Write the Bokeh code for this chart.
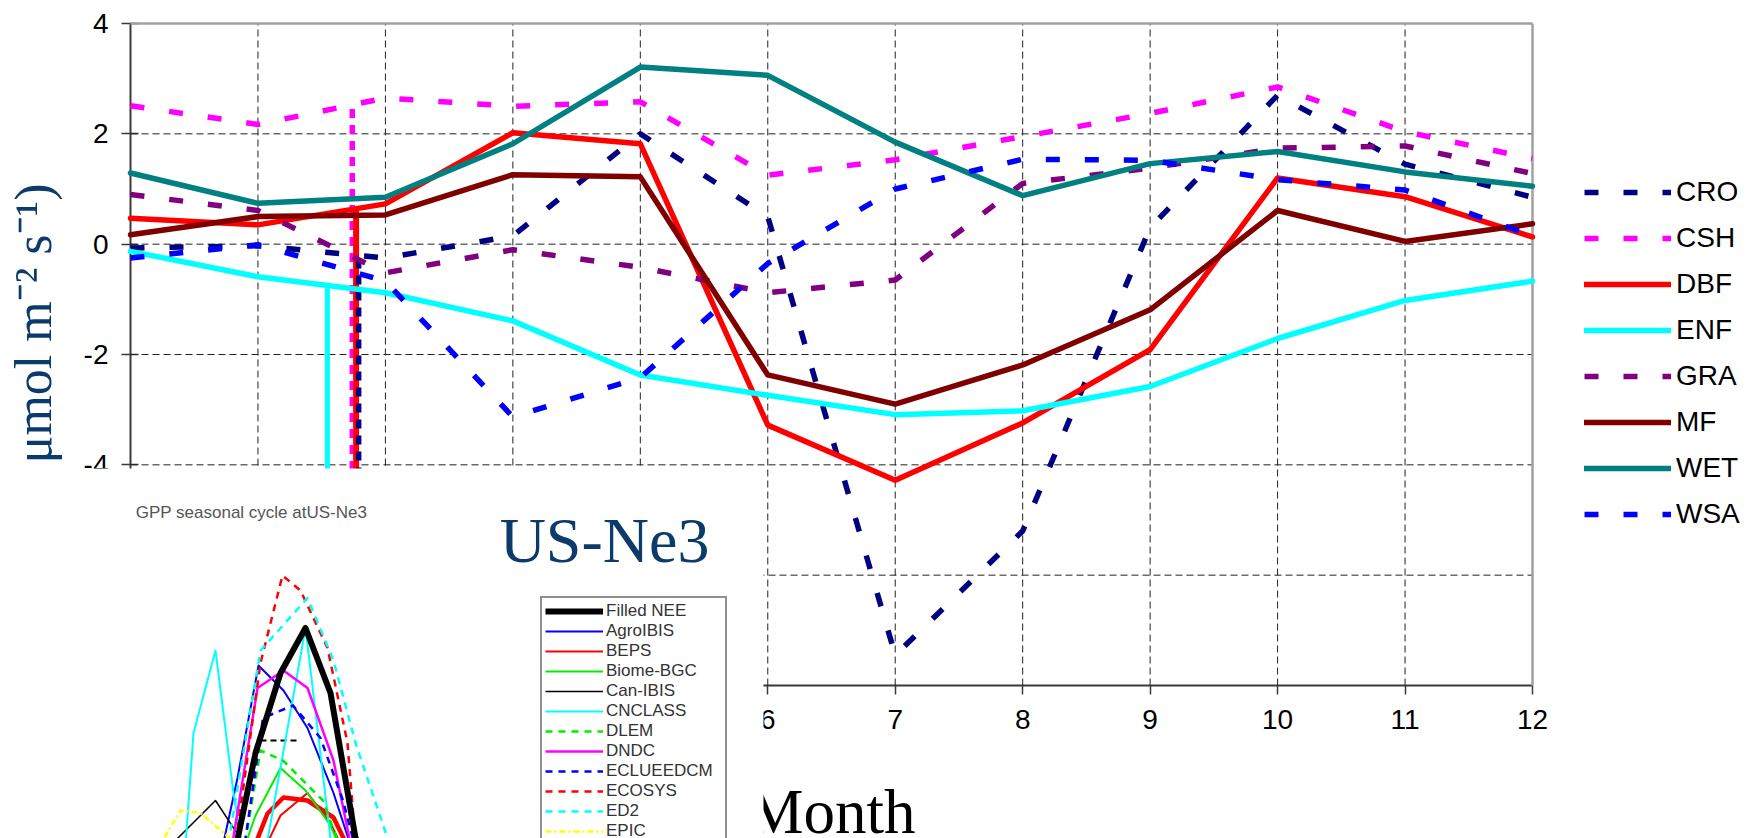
import math
from bokeh.plotting import figure
from bokeh.models import (FixedTicker, Legend, LegendItem, LinearAxis, Range1d)
from bokeh.core.properties import value
from bokeh.embed import file_html
from bokeh.resources import INLINE

# ---------------- main chart data (NEE, umol m-2 s-1) ----------------
months = [1, 2, 3, 4, 5, 6, 7, 8, 9, 10, 11, 12]
CRO = [-0.07, -0.03, -0.25, 0.15, 2.0, 0.5, -7.45, -5.2, 0.3, 2.7, 1.45, 0.85]
CSH = [2.51, 2.17, 2.65, 2.5, 2.58, 1.25, 1.53, 1.95, 2.37, 2.85, 2.04, 1.55]
DBF = [0.47, 0.35, 0.73, 2.02, 1.82, -3.28, -4.28, -3.24, -1.91, 1.2, 0.86, 0.13]
ENF = [-0.13, -0.59, -0.88, -1.39, -2.37, -2.74, -3.09, -3.02, -2.58, -1.71, -1.02, -0.67]
GRA = [0.9, 0.61, -0.52, -0.1, -0.42, -0.88, -0.65, 1.1, 1.38, 1.74, 1.78, 1.28]
MF = [0.17, 0.5, 0.53, 1.26, 1.22, -2.37, -2.9, -2.19, -1.19, 0.61, 0.05, 0.37]
WET = [1.29, 0.74, 0.85, 1.82, 3.21, 3.06, 1.85, 0.88, 1.46, 1.68, 1.31, 1.05]
WSA = [-0.25, -0.01, -0.67, -3.13, -2.42, -0.35, 1.0, 1.54, 1.52, 1.17, 0.98, 0.15]

# vertical drop-outs visible left of month 3 (x position, top value)
drop_names = ["ENF", "CSH", "DBF", "CRO"]
drop_x = [2.545, 2.74, 2.77, 2.79]
drop_top = [-0.80, 2.45, 0.62, -0.28]

y_ticks = [-8, -6, -4, -2, 0, 2, 4]

# ---------------- inset chart data (GPP seasonal cycle, US-Ne3) ----------------
nee_m = [4, 5, 6, 7, 8, 9, 10, 11]
nee_g = [0.0, 0.3, 5.1, 8.3, 10.1, 7.5, 1.7, 0.2]
agro_m = [4.5, 5.28, 6.12, 7.12, 8.08, 9.12, 10.0]
agro_g = [0.5, 4.1, 8.6, 7.6, 6.1, 3.5, 0.8]
beps_m = [6.0, 7.0, 8.08, 9.0, 10.0]
beps_g = [0.5, 2.6, 3.5, 2.3, 0.2]
biome_m = [5.2, 6.0, 7.0, 8.0, 9.0, 9.8]
biome_g = [0.3, 2.6, 4.5, 3.6, 2.2, 0.3]
canibis_m = [1.2, 4.4, 6.5]
canibis_g = [0.0, 3.2, 0.0]
cnclass_m = [3.1, 3.52, 4.4, 5.12, 5.6, 6.3, 8.0, 9.0, 9.4]
cnclass_g = [0.0, 5.9, 9.2, 3.5, 0.6, 0.6, 10.1, 1.68, 0.3]
dlem_m = [5.5, 6.2, 7.1, 7.8, 8.7, 9.5]
dlem_g = [1.0, 5.2, 4.8, 4.1, 3.2, 1.0]
dndc_m = [5.0, 6.08, 7.12, 8.08, 9.12, 10.0]
dndc_g = [1.0, 7.7, 8.4, 7.7, 4.8, 0.5]
eclue_m = [5.5, 6.3, 7.5, 8.6, 9.5, 10.2]
eclue_g = [1.0, 6.5, 7.0, 5.7, 3.2, 0.5]
ecosys_m = [5.0, 6.2, 7.08, 7.8, 8.88, 9.68, 10.0]
ecosys_g = [0.0, 8.7, 12.2, 11.6, 9.3, 5.5, 1.5]
ed2_m = [5.0, 6.2, 8.08, 9.12, 10.0, 11.28, 12.0]
ed2_g = [2.0, 9.2, 11.3, 8.8, 5.5, 1.7, 0.5]
epic_m = [1.5, 3.0, 3.8, 5.2]
epic_g = [0.3, 2.8, 2.7, 1.5]
redthick_m = [5.5, 6.48, 7.12, 8.08, 9.12, 10.2]
redthick_g = [0.2, 2.68, 3.32, 3.2, 2.52, 0.3]
blackdash_m = [6.2, 7.8]
blackdash_g = [5.6, 5.6]

NAVY_TXT = "#0b3a6b"

# ---------------- layout constants (pixels) ----------------
W, H = 1758, 838
PX_L, PX_R, PX_T, PX_B = 130, 1532, 23, 685          # main plot area
XS = (PX_R - PX_L) / (months[-1] - months[0])        # px per month
YS = (PX_B - PX_T) / (y_ticks[-1] - y_ticks[0])      # px per unit
IN_R, IN_T = 763, 468                                # pasted inset covers x<763, y>468
IX0, IXS = 130, 25.0                                 # inset: month 1 at px 130, 25 px / month
IY0, IYS = 880, 25.0                                 # inset: GPP 0 at px 880, 25 px / unit
BASE_SHIFT = 0.32                                    # em correction for alphabetic baseline


def mx(px):
    return months[0] + (px - PX_L) / XS


def my(py):
    return y_ticks[-1] - (py - PX_T) / YS


def ix(px):
    return 1 + (px - IX0) / IXS


def iy(py):
    return (IY0 - py) / IYS


p = figure(width=W, height=H, x_range=Range1d(mx(0), mx(W)), y_range=Range1d(my(H), my(0)),
           output_backend="svg", toolbar_location=None, min_border=0,
           x_axis_type=None, y_axis_type=None)
p.background_fill_color = "white"
p.border_fill_color = "white"
p.outline_line_color = None
p.extra_x_ranges = {"inset": Range1d(ix(0), ix(W))}
p.extra_y_ranges = {"inset": Range1d(iy(H), iy(0))}

# axes fixed at the plot-area edges
yax = LinearAxis(fixed_location=months[0], bounds=(y_ticks[0], y_ticks[-1]),
                 ticker=FixedTicker(ticks=y_ticks),
                 major_label_overrides={t: str(t) for t in y_ticks})
xax = LinearAxis(fixed_location=y_ticks[0], bounds=(months[0], months[-1]),
                 ticker=FixedTicker(ticks=months))
for ax in (xax, yax):
    ax.level = "underlay"
    ax.axis_line_color = "#3a3a3a"
    ax.axis_line_width = 2
    ax.major_tick_line_color = "#3a3a3a"
    ax.major_tick_line_width = 1.5
    ax.minor_tick_line_color = None
    ax.major_label_text_font = "Liberation Sans"
    ax.major_label_text_font_size = "28px"
    ax.major_label_text_color = "black"
xax.major_tick_in = 0
xax.major_tick_out = 9
xax.major_label_standoff = 15
yax.major_tick_in = 8
yax.major_tick_out = 9
yax.major_label_standoff = 13
p.add_layout(yax, "left")
p.add_layout(xax, "below")

# dashed grid inside the plot area
gx = months[1:-1]
p.segment(x0=gx, y0=[y_ticks[0]] * len(gx), x1=gx, y1=[y_ticks[-1]] * len(gx),
          line_color="#222222", line_width=1, line_dash="7 4")
gy = y_ticks[1:-1]
p.segment(x0=[months[0]] * len(gy), y0=gy, x1=[months[-1]] * len(gy), y1=gy,
          line_color="#222222", line_width=1, line_dash="7 4")
# gray top and right border of the plot area
p.segment(x0=[months[0], months[-1]], y0=[y_ticks[-1], y_ticks[0]],
          x1=[months[-1], months[-1]], y1=[y_ticks[-1], y_ticks[-1]],
          line_color="#a0a0a0", line_width=2.5)

series = [
    ("CRO", CRO, "#000080", "14 25"),
    ("CSH", CSH, "#ff00ff", "14 25"),
    ("DBF", DBF, "#ff0000", "solid"),
    ("ENF", ENF, "#00ffff", "solid"),
    ("GRA", GRA, "#800080", "14 25"),
    ("MF", MF, "#800000", "solid"),
    ("WET", WET, "#008080", "solid"),
    ("WSA", WSA, "#0000ff", "14 25"),
]
colors = {n: c for n, _, c, _ in series}

drop_style = {"ENF": ("solid", 5), "CSH": ("9 7", 5.5), "DBF": ("solid", 6), "CRO": ("9 7", 5.5)}
for name, dx, dt in zip(drop_names, drop_x, drop_top):
    dash, w = drop_style[name]
    p.segment(x0=[dx], y0=[dt], x1=[dx], y1=[y_ticks[0]], line_color=colors[name],
              line_width=w, line_dash=dash)

items = []
for name, vals, col, dash in series:
    solid = dash == "solid"
    r = p.line(months, vals, line_color=col, line_width=5.5, line_dash=dash,
               line_join="round", line_cap="round" if solid else "butt")
    items.append(LegendItem(label=name, renderers=[r]))

legend = Legend(items=items, location=(1584, 308), padding=0, spacing=14,
                glyph_width=87, glyph_height=32, label_height=32, label_standoff=5,
                label_text_font="Liberation Sans", label_text_font_size="28px",
                label_text_color="black", border_line_color=None,
                background_fill_alpha=0)
p.add_layout(legend)

# axis titles
p.text(x=[mx(50 - BASE_SHIFT * 52)], y=[my(463)], text=["μmol m⁻² s⁻¹)"], angle=math.pi / 2,
       text_font=value("Liberation Serif"), text_font_size=value("52px"),
       text_color=NAVY_TXT, text_align="left", text_baseline="alphabetic")
p.text(x=[(months[0] + months[-1]) / 2], y=[my(832 - BASE_SHIFT * 63)], text=["Month"],
       text_font=value("Liberation Serif"), text_font_size=value("63px"),
       text_color="black", text_align="center", text_baseline="alphabetic")

# ---------------- pasted inset (GPP chart) ----------------
p.quad(left=[ix(0)], right=[ix(IN_R)], bottom=[iy(H)], top=[iy(IN_T)],
       x_range_name="inset", y_range_name="inset",
       fill_color="white", line_color=None)

kw = dict(x_range_name="inset", y_range_name="inset", line_join="round")
p.line(redthick_m, redthick_g, line_color="#ff0000", line_width=4.5, **kw)
p.line(blackdash_m, blackdash_g, line_color="#000000", line_width=2, line_dash="6 4", **kw)

inset_series = [
    ("Filled NEE", nee_m, nee_g, "#000000", 6, "solid"),
    ("AgroIBIS", agro_m, agro_g, "#0000ff", 2, "solid"),
    ("BEPS", beps_m, beps_g, "#ff0000", 2, "solid"),
    ("Biome-BGC", biome_m, biome_g, "#00ee00", 2, "solid"),
    ("Can-IBIS", canibis_m, canibis_g, "#000000", 1.5, "solid"),
    ("CNCLASS", cnclass_m, cnclass_g, "#00ffff", 2, "solid"),
    ("DLEM", dlem_m, dlem_g, "#00ee00", 2.5, "7 6"),
    ("DNDC", dndc_m, dndc_g, "#ff00ff", 2.5, "solid"),
    ("ECLUEEDCM", eclue_m, eclue_g, "#0000ff", 2.5, "7 6"),
    ("ECOSYS", ecosys_m, ecosys_g, "#ff0000", 2.5, "7 6"),
    ("ED2", ed2_m, ed2_g, "#00ffff", 2.5, "7 6"),
    ("EPIC", epic_m, epic_g, "#ffff00", 2.5, "6 3 2 3"),
]
rmap = {}
for name, mm, gg, col, w, dash in inset_series[1:] + inset_series[:1]:
    rmap[name] = p.line(mm, gg, line_color=col, line_width=w, line_dash=dash, **kw)
inset_items = [LegendItem(label=s[0], renderers=[rmap[s[0]]]) for s in inset_series]

ilegend = Legend(items=inset_items, location=(540, -8), padding=3, spacing=0,
                 glyph_width=58, glyph_height=20, label_height=20, label_width=116,
                 label_standoff=3, label_text_font="Liberation Sans",
                 label_text_font_size="17px", label_text_color="#333333",
                 border_line_color="#222222", border_line_width=2.5,
                 background_fill_color="white", background_fill_alpha=1)
p.add_layout(ilegend)

p.text(x=[ix(251)], y=[iy(512)], text=["GPP seasonal cycle atUS-Ne3"],
       x_range_name="inset", y_range_name="inset",
       text_font=value("Liberation Sans"), text_font_size=value("17px"),
       text_color="#555555", text_align="center", text_baseline="middle")
p.text(x=[ix(604)], y=[iy(560 - BASE_SHIFT * 64)], text=["US-Ne3"],
       x_range_name="inset", y_range_name="inset",
       text_font=value("Liberation Serif"), text_font_size=value("64px"),
       text_color=NAVY_TXT, text_align="center", text_baseline="alphabetic")

with open("out.html", "w") as f:
    f.write(file_html(p, INLINE))
